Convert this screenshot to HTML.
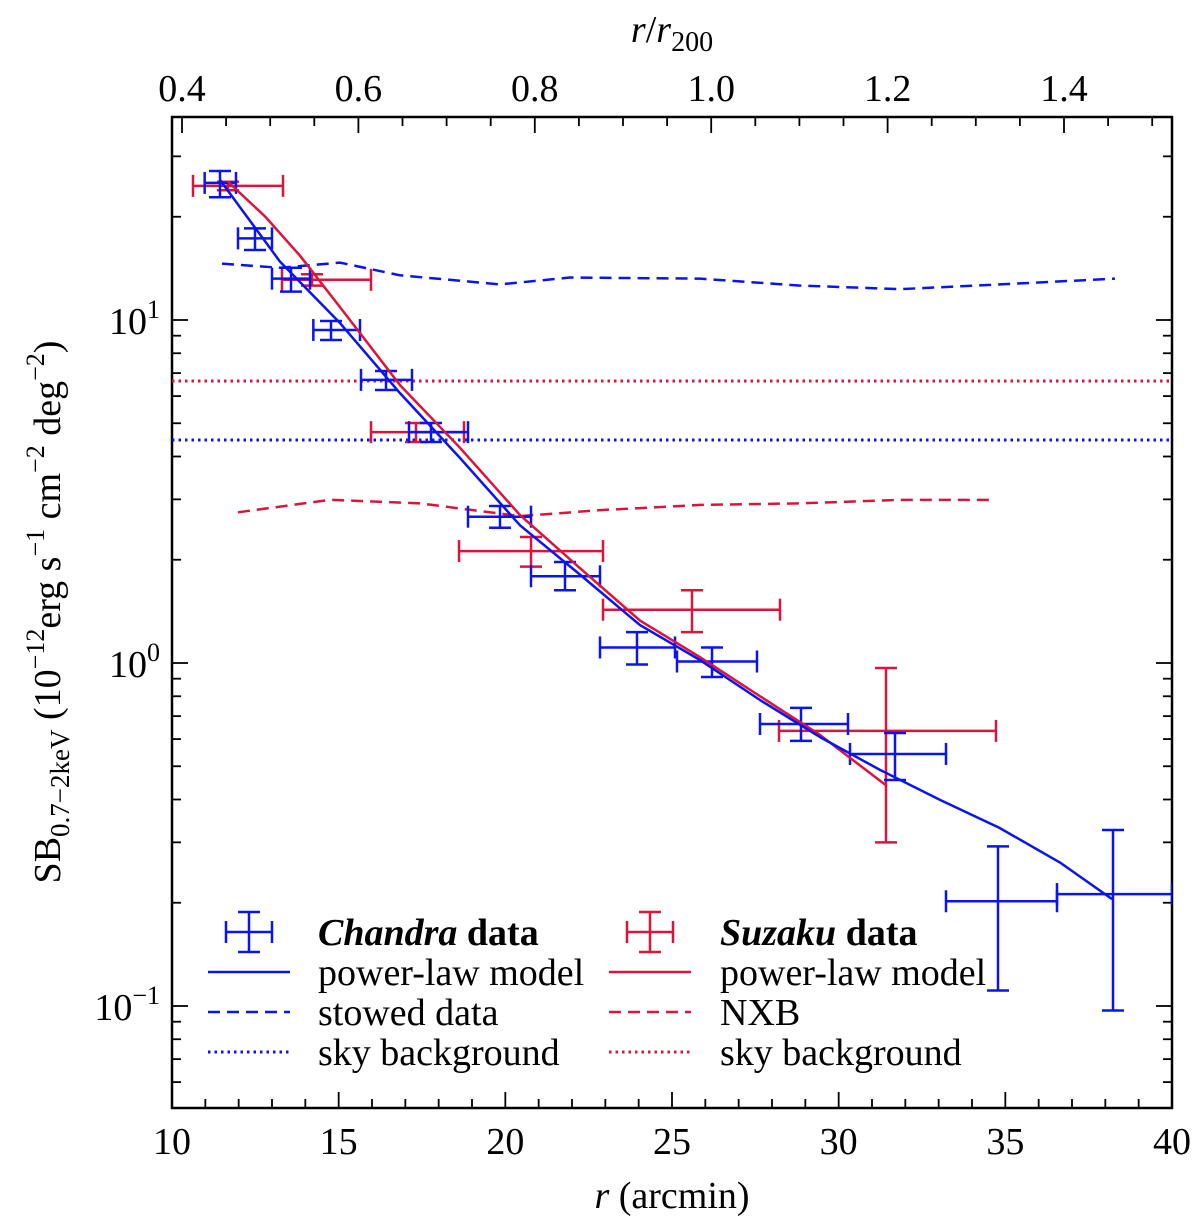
<!DOCTYPE html>
<html><head><meta charset="utf-8"><style>
body{margin:0;background:#fff}
svg{display:block;font-family:"Liberation Serif",serif}
</style></head><body>
<svg id="chart" width="1200" height="1232" viewBox="0 0 1200 1232" xmlns="http://www.w3.org/2000/svg"></svg>
<script>
const chandraR=[11.44,12.49,13.57,14.77,16.42,17.77,19.84,21.79,23.95,26.2,28.87,31.69,34.78,38.23];
const chandraRLo=[10.98,11.98,13.0,14.24,15.67,17.11,18.88,20.77,22.84,25.15,27.64,30.34,33.22,36.55];
const chandraRHi=[11.92,13.0,14.14,15.64,17.2,18.88,20.77,22.84,25.09,27.55,30.28,33.22,36.55,40.0];
const chandraSB=[25.1,17.3,13.2,9.35,6.69,4.71,2.67,1.79,1.11,1.01,0.664,0.543,0.202,0.212];
const chandraSBLo=[22.8,16.0,12.1,8.74,6.25,4.41,2.48,1.63,0.99,0.91,0.593,0.456,0.111,0.097];
const chandraSBHi=[27.2,18.5,14.2,9.93,7.10,5.01,2.87,1.97,1.23,1.11,0.74,0.625,0.292,0.326];
const suzakuR=[11.68,14.2,17.32,20.77,25.6,31.42];
const suzakuRLo=[10.63,13.3,15.97,18.61,22.93,28.21];
const suzakuRHi=[13.33,15.97,18.76,22.93,28.24,34.72];
const suzakuSB=[24.6,13.1,4.71,2.12,1.43,0.634];
const suzakuSBLo=[23.9,12.6,4.41,1.91,1.23,0.30];
const suzakuSBHi=[25.3,13.6,5.01,2.33,1.63,0.967];
const blueModelR=[11.44,13.24,15.04,16.84,18.64,20.44,22.24,24.04,25.84,27.64,29.44,31.24,33.04,34.84,36.64,38.2];
const blueModelSB=[25.6,14.8,9.8,6.12,3.96,2.52,1.81,1.29,1.02,0.78,0.608,0.488,0.399,0.33,0.262,0.205];
const redModelR=[11.68,12.8,13.84,15.04,16.84,18.64,20.44,22.24,24.04,25.84,27.64,29.44,31.42];
const redModelSB=[25.3,20.0,15.4,10.9,6.46,4.24,2.70,1.89,1.33,1.04,0.80,0.617,0.44];
const stowedR=[11.5,13.24,15.04,16.84,19.84,21.94,25.84,28.84,31.84,34.84,38.29];
const stowedSB=[14.6,14.2,14.7,13.5,12.7,13.3,13.2,12.6,12.3,12.7,13.2];
const nxbR=[11.98,14.74,17.44,20.44,22.84,25.84,28.84,31.84,34.63];
const nxbSB=[2.75,2.99,2.92,2.68,2.79,2.89,2.92,2.99,2.99];
const chandraSky=4.47, suzakuSky=6.64;
const xTicks=[10,15,20,25,30,35,40];
const topTicks=["0.4","0.6","0.8","1.0","1.2","1.4"];

const L=172,R=1172,T=117,B=1108;
const X=r=>L+(r-10)*(R-L)/30;
const Y=v=>320-(Math.log10(v)-1)*343;
const XT=q=>182+(q-0.4)*882;
const BLUE="#0a14f0",RED="#dc143c";
const FS=38;
const svg=document.getElementById('chart');
const NS="http://www.w3.org/2000/svg";
function mk(tag,attrs,parent){const e=document.createElementNS(NS,tag);for(const k in attrs)e.setAttribute(k,attrs[k]);(parent||svg).appendChild(e);return e;}
function txt(s,x,y,size,anchor,parent){const t=mk('text',{x:x,y:y,'font-size':size,'text-anchor':anchor||'middle'},parent);t.innerHTML=s;return t;}

const frame=mk('rect',{x:L,y:T,width:R-L,height:B-T,fill:'none',stroke:'#000','stroke-width':2.5});


const ax=mk('g',{stroke:'#000','stroke-width':1.8});


for(let r=10;r<=40;r++){const x=X(r);const len=(r%5===0)?16:9;
  mk('line',{x1:x,y1:B,x2:x,y2:B-len},ax);}
for(let i=0;i<=24;i++){const q=0.4+i*0.05;const x=XT(q);if(x>R)break;const len=(i%4===0)?16:9;
  mk('line',{x1:x,y1:T,x2:x,y2:T+len},ax);}
for(let k=-2;k<=1;k++){for(let m=1;m<=9;m++){const v=m*Math.pow(10,k);const y=Y(v);if(y<T||y>B)continue;const len=m===1?16:9;
  mk('line',{x1:L,y1:y,x2:L+len,y2:y},ax);mk('line',{x1:R,y1:y,x2:R-len,y2:y},ax);}}
const xl=mk('g',{});


xTicks.forEach(v=>txt(String(v),X(v),B+46,FS,'middle',xl));
const tl=mk('g',{});


topTicks.forEach(v=>txt(v,XT(parseFloat(v)),T-16,FS,'middle',tl));
const yl=mk('g',{});


[[1,'1'],[0,'0'],[-1,'−1']].forEach(([k,s])=>{txt('10<tspan dy="-16" font-size="26">'+s+'</tspan>',160,Y(Math.pow(10,k))+14,FS,'end',yl);});
const xt=txt('<tspan font-style="italic">r</tspan> (arcmin)',672,1208,FS);


const tt=txt('<tspan font-style="italic">r</tspan>/<tspan font-style="italic">r</tspan><tspan font-size="28" dy="9">200</tspan>',672,42,FS);


const yt=txt('SB<tspan font-size="27" dy="9">0.7−2keV</tspan><tspan dy="-9"> (10</tspan><tspan font-size="26" dy="-16">−12</tspan><tspan dy="16">erg s</tspan><tspan font-size="26" dy="-16">−1</tspan><tspan dy="16"> cm</tspan><tspan font-size="26" dy="-16">−2</tspan><tspan dy="16"> deg</tspan><tspan font-size="26" dy="-16">−2</tspan><tspan dy="16">)</tspan>',0,0,FS);
yt.setAttribute('transform','translate(60,612) rotate(-90)');



const clip=mk('clipPath',{id:'pc'});mk('rect',{x:L,y:T,width:R-L,height:B-T},clip);
function line(rs,vs,color,dash,name){const p=mk('polyline',{points:rs.map((r,i)=>X(r)+','+Y(vs[i])).join(' '),fill:'none',stroke:color,'stroke-width':2.5,'stroke-dasharray':dash||'none','clip-path':'url(#pc)','stroke-linejoin':'round'});
  
  }
function hline(v,color,name){const p=mk('line',{x1:L,x2:R,y1:Y(v),y2:Y(v),stroke:color,'stroke-width':3,'stroke-dasharray':'2.5 4'});
  
  }
hline(suzakuSky,RED,'suzaku-sky-background');
hline(chandraSky,BLUE,'chandra-sky-background');
line(stowedR,stowedSB,BLUE,'12 7','chandra-stowed-data');
line(nxbR,nxbSB,RED,'12 7','suzaku-nxb');
function errs(rs,lo,hi,v,vlo,vhi,color,name){const g=mk('g',{stroke:color,'stroke-width':2.5,'clip-path':'url(#pc)'});
  
  
  rs.forEach((r,i)=>{const x=X(r),y=Y(v[i]),x1=X(lo[i]),x2=X(hi[i]),y1=Y(vlo[i]),y2=Y(vhi[i]);
    mk('line',{x1:x1,x2:x2,y1:y,y2:y},g);mk('line',{x1:x,x2:x,y1:y1,y2:y2},g);
    mk('line',{x1:x1,x2:x1,y1:y-11,y2:y+11},g);mk('line',{x1:x2,x2:x2,y1:y-11,y2:y+11},g);
    mk('line',{x1:x-11,x2:x+11,y1:y1,y2:y1},g);mk('line',{x1:x-11,x2:x+11,y1:y2,y2:y2},g);});}
errs(suzakuR,suzakuRLo,suzakuRHi,suzakuSB,suzakuSBLo,suzakuSBHi,RED,'suzaku-data-points');
errs(chandraR,chandraRLo,chandraRHi,chandraSB,chandraSBLo,chandraSBHi,BLUE,'chandra-data-points');
line(redModelR,redModelSB,RED,null,'suzaku-power-law-model');
line(blueModelR,blueModelSB,BLUE,null,'chandra-power-law-model');

const lg=mk('g',{});


function legSym(x0,y,color,type){const g=mk('g',{stroke:color,'stroke-width':2.5},lg);
  if(type==='err'){mk('line',{x1:x0+18,x2:x0+64,y1:y,y2:y},g);mk('line',{x1:x0+41,x2:x0+41,y1:y-20,y2:y+20},g);
    mk('line',{x1:x0+18,x2:x0+18,y1:y-11,y2:y+11},g);mk('line',{x1:x0+64,x2:x0+64,y1:y-11,y2:y+11},g);
    mk('line',{x1:x0+30,x2:x0+52,y1:y-20,y2:y-20},g);mk('line',{x1:x0+30,x2:x0+52,y1:y+20,y2:y+20},g);}
  else{const d=type==='dash'?'12 7':type==='dot'?'2.5 4':'none';mk('line',{x1:x0,x2:x0+82,y1:y,y2:y,'stroke-dasharray':d,'stroke-width':type==='dot'?3:2.5},g);}}
const rows=[932,972,1012,1052];
const blueLab=['<tspan font-weight="bold" font-style="italic">Chandra</tspan><tspan font-weight="bold"> data</tspan>','power-law model','stowed data','sky background'];
const redLab=['<tspan font-weight="bold" font-style="italic">Suzaku</tspan><tspan font-weight="bold"> data</tspan>','power-law model','NXB','sky background'];
const types=['err','solid','dash','dot'];
rows.forEach((y,i)=>{legSym(208,y,BLUE,types[i]);legSym(609,y,RED,types[i]);
  txt(blueLab[i],318,y+13,FS,'start',lg);txt(redLab[i],720,y+13,FS,'start',lg);});
</script>
</body></html>
